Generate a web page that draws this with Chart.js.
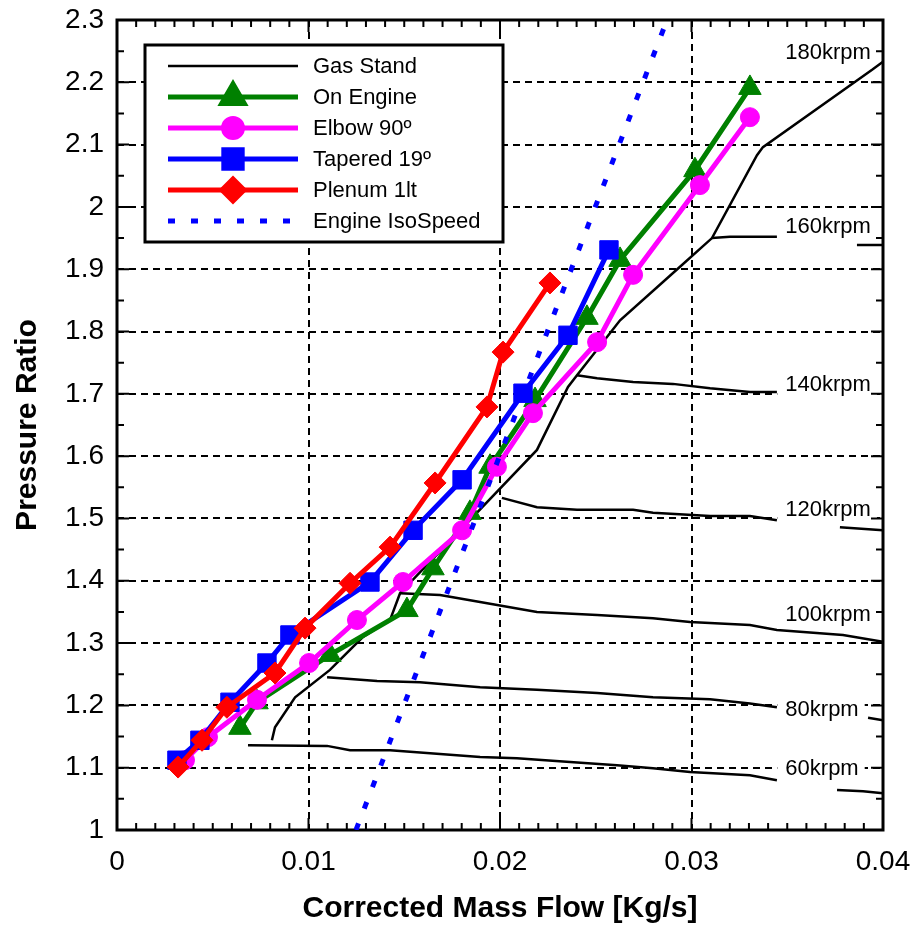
<!DOCTYPE html>
<html lang="en">
<head>
<meta charset="UTF-8">
<title>Compressor map</title>
<script src="https://cdn.jsdelivr.net/npm/chart.js"></script>
<style>
  html, body { margin: 0; padding: 0; background: #fff; }
  canvas { display: block; }
</style>
</head>
<body>
<canvas id="myChart" width="914" height="927"></canvas>
<script>
// values: corrected mass flow [kg/s] vs pressure ratio
const seriesNames = ['Gas Stand', 'On Engine', 'Elbow 90º', 'Tapered 19º', 'Plenum 1lt', 'Engine IsoSpeed'];

const onEngineX = [0.00642, 0.00731, 0.01112, 0.01514, 0.0165, 0.01843, 0.01948, 0.02183, 0.02454, 0.02627, 0.03018, 0.03305];
const onEngineY = [1.164, 1.205, 1.281, 1.353, 1.420, 1.509, 1.583, 1.690, 1.822, 1.915, 2.059, 2.191];

const elbowX = [0.00355, 0.00475, 0.00731, 0.01003, 0.01253, 0.01493, 0.01802, 0.01984, 0.02172, 0.02507, 0.02695, 0.03044, 0.03305];
const elbowY = [1.112, 1.149, 1.209, 1.268, 1.337, 1.398, 1.481, 1.583, 1.669, 1.783, 1.891, 2.035, 2.144];

const taperedX = [0.00313, 0.00433, 0.0059, 0.00783, 0.00903, 0.01321, 0.01546, 0.01802, 0.0212, 0.02355, 0.02569];
const taperedY = [1.112, 1.144, 1.205, 1.268, 1.313, 1.398, 1.481, 1.562, 1.701, 1.794, 1.931];

const plenumX = [0.00319, 0.00444, 0.00574, 0.00825, 0.00982, 0.01217, 0.01426, 0.01661, 0.01932, 0.02016, 0.02261];
const plenumY = [1.101, 1.144, 1.197, 1.252, 1.324, 1.396, 1.454, 1.557, 1.679, 1.767, 1.878];

const isoX = [0.01248, 0.02872];
const isoY = [1.0, 2.3];

// gas stand map: surge line + speed lines (null = gap under the label)
const gasSurgeX = [0.00809, 0.00825, 0.0093, 0.01112, 0.01285, 0.01426, 0.01478, 0.02193, 0.02355, 0.02402, 0.02627, 0.0294, 0.03107, 0.03342, 0.03373, 0.03943, 0.04];
const gasSurgeY = [1.144, 1.165, 1.213, 1.257, 1.310, 1.337, 1.380, 1.610, 1.711, 1.730, 1.818, 1.904, 1.950, 2.083, 2.096, 2.220, 2.233];

const gas60X = [0.00684, 0.01097, 0.01217, 0.01426, 0.01896, 0.02089, 0.02366, 0.02611, 0.02799, 0.02992, 0.03305, 0.03446, null, 0.0376, 0.03896, 0.04];
const gas60Y = [1.136, 1.135, 1.128, 1.128, 1.117, 1.115, 1.109, 1.104, 1.099, 1.093, 1.088, 1.080, null, 1.064, 1.062, 1.059];

const gas80X = [0.01097, 0.01358, 0.01582, 0.01896, 0.02193, 0.02507, 0.02799, 0.03097, 0.03305, 0.03446, null, 0.03922, 0.04];
const gas80Y = [1.245, 1.239, 1.237, 1.229, 1.225, 1.220, 1.213, 1.210, 1.203, 1.197, null, 1.180, 1.176];

const gas100X = [0.01478, 0.01687, 0.01896, 0.02193, 0.02507, 0.02799, 0.02992, 0.03305, 0.03446, 0.03791, 0.04];
const gas100Y = [1.380, 1.377, 1.366, 1.350, 1.345, 1.340, 1.334, 1.329, 1.321, 1.313, 1.302];

const gas120X = [0.0201, 0.02193, 0.02402, 0.02695, 0.02799, 0.03097, 0.03305, 0.03446, null, 0.03775, 0.04];
const gas120Y = [1.533, 1.518, 1.514, 1.514, 1.509, 1.504, 1.504, 1.497, null, 1.486, 1.481];

const gas140X = [0.02402, 0.02507, 0.02695, 0.02903, 0.03097, 0.03305, 0.03446];
const gas140Y = [1.730, 1.725, 1.719, 1.716, 1.709, 1.703, 1.703];

const gas160X = [0.03107, 0.03201, 0.03446, null, 0.03864, 0.04];
const gas160Y = [1.950, 1.952, 1.952, null, 1.939, 1.939];

const speedLabels = ['180krpm', '160krpm', '140krpm', '120krpm', '100krpm', '80krpm', '60krpm'];
const speedLabelY = [2.247, 1.968, 1.714, 1.513, 1.345, 1.192, 1.098];
const speedLabelX = 0.0349;

const xTickLabels = ['0', '0.01', '0.02', '0.03', '0.04'];
const yTickLabels = ['1', '1.1', '1.2', '1.3', '1.4', '1.5', '1.6', '1.7', '1.8', '1.9', '2', '2.1', '2.2', '2.3'];

const FONT = '"Liberation Sans", Arial, Helvetica, sans-serif';

// one style per legend entry
const styles = [
    { color: '#000000', width: 2.5 },
    { color: '#008000', width: 5, point: 'triangle', r: 13 },
    { color: '#ff00ff', width: 5, point: 'circle', r: 9.5 },
    { color: '#0000ff', width: 5, point: 'rect', r: 13 },
    { color: '#ff0000', width: 5, point: 'rectRot', r: 11 },
    { color: '#0000ff', width: 5, dash: [7, 16] }
];

function lineSet(xs, ys, st, order) {
    return {
        data: xs.map((x, i) => ({ x: x, y: ys[i] })),
        showLine: true,
        borderColor: st.color,
        backgroundColor: st.color,
        borderWidth: st.width,
        borderDash: st.dash || [],
        borderCapStyle: 'butt',
        borderJoinStyle: 'miter',
        pointStyle: st.point || 'circle',
        pointRadius: st.point ? st.r : 0,
        pointHoverRadius: st.point ? st.r : 0,
        pointBorderWidth: 1,
        pointBackgroundColor: st.color,
        pointBorderColor: st.color,
        tension: 0,
        spanGaps: false,
        order: order
    };
}

const gasLines = [
    [gasSurgeX, gasSurgeY], [gas60X, gas60Y], [gas80X, gas80Y], [gas100X, gas100Y],
    [gas120X, gas120Y], [gas140X, gas140Y], [gas160X, gas160Y]
];

const datasets = gasLines.map(([xs, ys]) => lineSet(xs, ys, styles[0], 10));
datasets.push(lineSet(onEngineX, onEngineY, styles[1], 5));
datasets.push(lineSet(elbowX, elbowY, styles[2], 4));
datasets.push(lineSet(taperedX, taperedY, styles[3], 3));
datasets.push(lineSet(plenumX, plenumY, styles[4], 2));
datasets.push(lineSet(isoX, isoY, styles[5], 1));

function marker(ctx, st, x, y) {
    if (!st.point) return;
    ctx.fillStyle = st.color;
    ctx.strokeStyle = st.color;
    ctx.setLineDash([]);
    Chart.helpers.drawPoint(ctx, { pointStyle: st.point, radius: st.r, rotation: 0, borderWidth: 1 }, x, y);
}

// box frame with inward ticks, like the original plot
const framePlugin = {
    id: 'frame',
    beforeDatasetsDraw(chart) {
        const { ctx, chartArea: a, scales: { x, y } } = chart;
        ctx.save();

        // white boxes behind the speed labels hide the grid there
        ctx.font = '22px ' + FONT;
        ctx.fillStyle = '#fff';
        speedLabels.forEach((t, i) => {
            const lx = x.getPixelForValue(speedLabelX);
            const ly = y.getPixelForValue(speedLabelY[i]);
            const tw = ctx.measureText(t).width;
            ctx.fillRect(lx - 8, ly - 11, tw + 14, 22);
        });

        ctx.strokeStyle = '#000';
        ctx.lineWidth = 2;
        ctx.beginPath();
        for (let i = 0; i <= 40; i++) {
            const px = x.getPixelForValue(i * 0.001);
            const len = i % 10 === 0 ? 12 : 7;
            ctx.moveTo(px, a.bottom); ctx.lineTo(px, a.bottom - len);
            ctx.moveTo(px, a.top); ctx.lineTo(px, a.top + len);
        }
        for (let i = 0; i <= 26; i++) {
            const py = y.getPixelForValue(1 + i * 0.05);
            const len = i % 2 === 0 ? 12 : 7;
            ctx.moveTo(a.left, py); ctx.lineTo(a.left + len, py);
            ctx.moveTo(a.right, py); ctx.lineTo(a.right - len, py);
        }
        ctx.stroke();
        ctx.lineWidth = 3;
        ctx.strokeRect(a.left, a.top, a.right - a.left, a.bottom - a.top);
        ctx.restore();
    }
};

const labelPlugin = {
    id: 'labels',
    afterDatasetsDraw(chart) {
        const { ctx, chartArea: a, scales: { x, y } } = chart;
        ctx.save();

        // speed line labels
        ctx.font = '22px ' + FONT;
        ctx.fillStyle = '#000';
        ctx.textAlign = 'left';
        ctx.textBaseline = 'middle';
        speedLabels.forEach((t, i) => {
            ctx.fillText(t, x.getPixelForValue(speedLabelX), y.getPixelForValue(speedLabelY[i]));
        });

        // legend box
        const left = a.left + 28, top = a.top + 25, w = 358, h = 197;
        ctx.fillStyle = '#fff';
        ctx.fillRect(left, top, w, h);
        ctx.lineWidth = 3;
        ctx.strokeStyle = '#000';
        ctx.strokeRect(left, top, w, h);

        seriesNames.forEach((name, i) => {
            const st = styles[i];
            const cy = top + 21 + i * 31;
            ctx.beginPath();
            ctx.strokeStyle = st.color;
            ctx.lineWidth = st.width;
            ctx.lineCap = 'butt';
            ctx.setLineDash(st.dash || []);
            ctx.moveTo(left + 23, cy);
            ctx.lineTo(left + 153, cy);
            ctx.stroke();
            marker(ctx, st, left + 88, cy);
            ctx.setLineDash([]);
            ctx.fillStyle = '#000';
            ctx.font = '22px ' + FONT;
            ctx.textAlign = 'left';
            ctx.textBaseline = 'middle';
            ctx.fillText(name, left + 168, cy + 1);
        });
        ctx.restore();
    }
};

Chart.defaults.font.family = FONT;
Chart.defaults.color = '#000';

const ctx = document.getElementById('myChart').getContext('2d');
const chart = new Chart(ctx, {
    type: 'scatter',
    data: { datasets: datasets },
    options: {
        responsive: false,
        animation: false,
        devicePixelRatio: 1,
        events: [],
        layout: { padding: { top: 20, right: 31, left: 0, bottom: 0 } },
        plugins: { legend: { display: false }, tooltip: { enabled: false } },
        scales: {
            x: {
                type: 'linear',
                min: 0,
                max: 0.04,
                afterFit: (s) => { s.height = 97; s.paddingLeft = 0; s.paddingRight = 0; },
                grid: { color: '#000', lineWidth: 2, drawTicks: false },
                border: { display: false, dash: [7, 5] },
                ticks: {
                    stepSize: 0.01,
                    autoSkip: false,
                    maxRotation: 0,
                    padding: 15,
                    font: { size: 28 },
                    callback: (v) => xTickLabels[Math.round(v * 100)]
                },
                title: {
                    display: true,
                    text: 'Corrected Mass Flow [Kg/s]',
                    font: { size: 30, weight: 'bold' },
                    padding: { top: 0, bottom: 0 }
                }
            },
            y: {
                type: 'linear',
                min: 1,
                max: 2.3,
                afterFit: (s) => { s.width = 117; s.paddingTop = 0; s.paddingBottom = 0; },
                grid: { color: '#000', lineWidth: 2, drawTicks: false },
                border: { display: false, dash: [7, 5] },
                ticks: {
                    stepSize: 0.1,
                    autoSkip: false,
                    padding: 13,
                    font: { size: 28 },
                    callback: (v) => yTickLabels[Math.round((v - 1) * 10)]
                },
                title: {
                    display: true,
                    text: 'Pressure Ratio',
                    font: { size: 30, weight: 'bold' },
                    padding: { top: 10, bottom: 0 }
                }
            }
        }
    },
    plugins: [framePlugin, labelPlugin]
});
</script>
</body>
</html>
